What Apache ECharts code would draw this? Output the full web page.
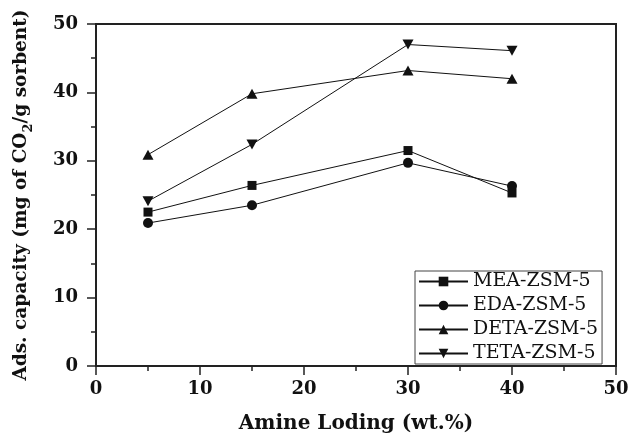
<!DOCTYPE html>
<html>
<head>
<meta charset="utf-8">
<script src="https://cdn.jsdelivr.net/npm/echarts@6/dist/echarts.min.js"></script>
<style>
  html, body { margin: 0; padding: 0; background: #fff; }
  #chart { width: 630px; height: 435px; }
</style>
</head>
<body>
<div id="chart"></div>
<script>
// amine loading (wt.%)
var loading = [5, 15, 30, 40];
// adsorption capacity (mg CO2 / g sorbent)
var mea = [22.5, 26.4, 31.5, 25.3];
var eda = [20.9, 23.5, 29.7, 26.3];
var deta = [30.9, 39.8, 43.2, 42.0];
var teta = [24.1, 32.4, 47.0, 46.1];
var seriesNames = ['MEA-ZSM-5', 'EDA-ZSM-5', 'DETA-ZSM-5', 'TETA-ZSM-5'];

var serif = '"DejaVu Serif", "Liberation Serif", serif';

function pairs(ys) {
  return loading.map(function(x, i) { return [x, ys[i]]; });
}

function makeSeries(name, ys, symbol, size, rotate) {
  return {
    name: name,
    type: 'line',
    data: pairs(ys),
    symbol: symbol,
    symbolSize: size,
    symbolRotate: rotate || 0,
    showSymbol: true,
    lineStyle: { color: '#111', width: 1 },
    itemStyle: { color: '#111' },
    emphasis: { disabled: true },
    z: 3
  };
}

var chart = echarts.init(document.getElementById('chart'));
chart.setOption({
  animation: false,
  backgroundColor: '#fff',
  grid: {
    left: 96, right: 14, top: 24, bottom: 69,
    containLabel: false,
    outerBoundsMode: 'none',
    show: true, borderColor: '#222', borderWidth: 2
  },
  legend: {
    orient: 'vertical',
    left: 415, top: 271,
    data: seriesNames,
    itemWidth: 49, itemHeight: 12,
    itemGap: 5,
    padding: [1, 4, 1, 3],
    borderColor: '#444', borderWidth: 1,
    backgroundColor: '#fff',
    textStyle: { fontFamily: serif, fontSize: 19, color: '#111' }
  },
  xAxis: {
    type: 'value',
    min: 0, max: 50, interval: 10,
    name: 'Amine Loding (wt.%)',
    nameLocation: 'middle',
    nameGap: 48,
    nameTextStyle: { fontFamily: serif, fontWeight: 'bold', fontSize: 20, color: '#111' },
    axisLine: { lineStyle: { color: '#222', width: 2 } },
    axisTick: { inside: false, length: 9, lineStyle: { color: '#222', width: 1.5 } },
    minorTick: { show: true, splitNumber: 2, length: 5, lineStyle: { color: '#222', width: 1.5 } },
    splitLine: { show: false },
    axisLabel: { margin: 14, fontFamily: serif, fontWeight: 'bold', fontSize: 18, color: '#111' }
  },
  yAxis: {
    type: 'value',
    min: 0, max: 50, interval: 10,
    name: '{n|Ads. capacity (mg of CO}{s|2}{n|/g sorbent)}',
    nameLocation: 'middle',
    nameGap: 61,
    nameRotate: 90,
    nameTextStyle: {
      rich: {
        n: { fontFamily: serif, fontWeight: 'bold', fontSize: 18.5, color: '#111', lineHeight: 28 },
        s: { fontFamily: serif, fontWeight: 'bold', fontSize: 13, color: '#111', lineHeight: 14, verticalAlign: 'bottom' }
      }
    },
    axisLine: { lineStyle: { color: '#222', width: 2 } },
    axisTick: { inside: false, length: 9, lineStyle: { color: '#222', width: 1.5 } },
    minorTick: { show: true, splitNumber: 2, length: 5, lineStyle: { color: '#222', width: 1.5 } },
    splitLine: { show: false },
    axisLabel: { margin: 18, fontFamily: serif, fontWeight: 'bold', fontSize: 18, color: '#111' }
  },
  series: [
    makeSeries(seriesNames[0], mea, 'rect', 9),
    makeSeries(seriesNames[1], eda, 'circle', 10),
    makeSeries(seriesNames[2], deta, 'triangle', [11, 10]),
    makeSeries(seriesNames[3], teta, 'triangle', [11, 10], 180)
  ]
});
</script>
</body>
</html>
